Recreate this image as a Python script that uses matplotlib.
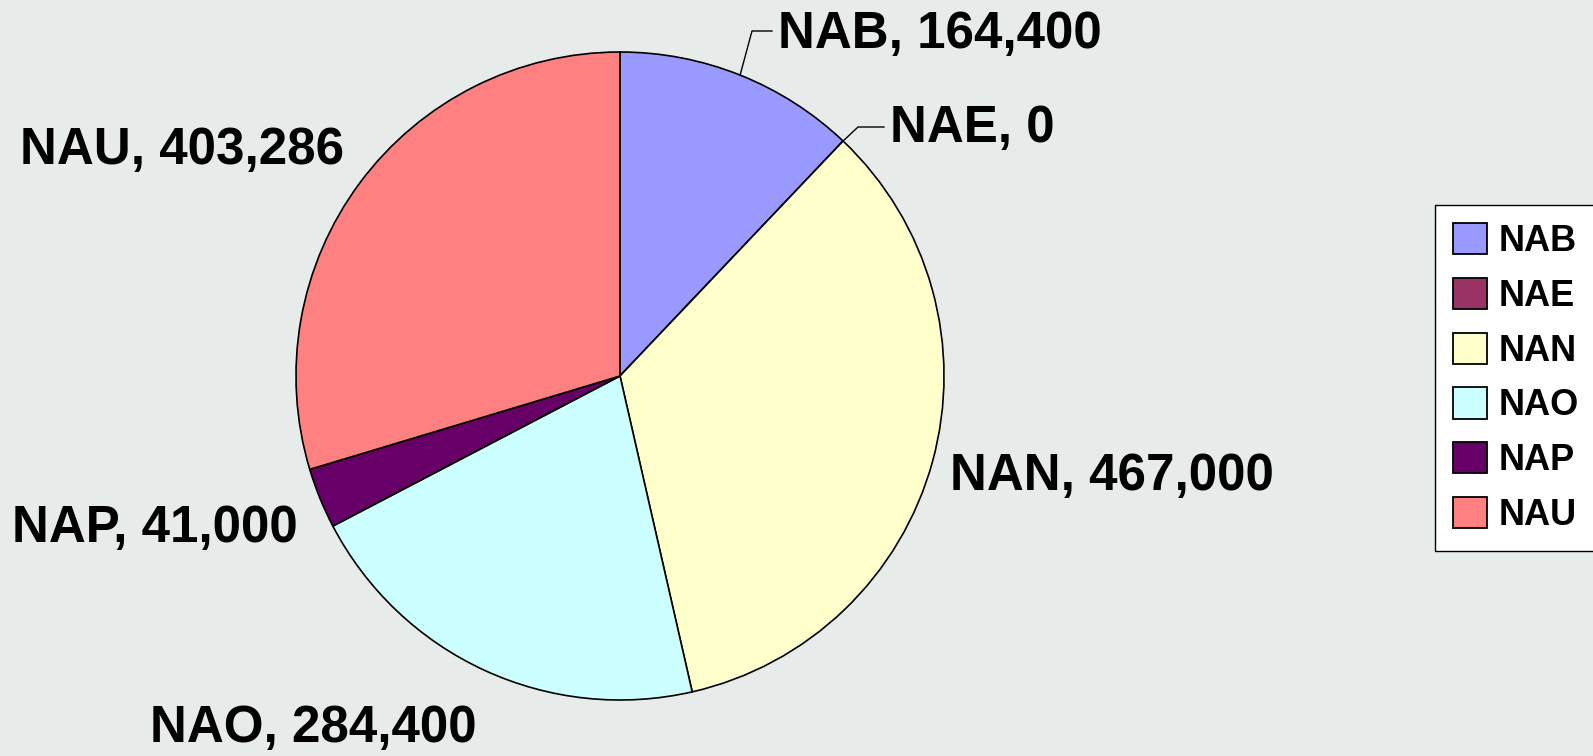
import numpy as np
import matplotlib.pyplot as plt

labels = ['NAB', 'NAE', 'NAN', 'NAO', 'NAP', 'NAU']
values = [164400, 0, 467000, 284400, 41000, 403286]
colors = ['#9999ff', '#993366', '#ffffcc', '#ccffff', '#660066', '#ff8080']

# label text anchor (left, vertical centre) in figure pixels, y from bottom
label_pos = {
    'NAB': (778, 722),
    'NAE': (890, 627),
    'NAN': (950, 279),
    'NAO': (150, 27),
    'NAP': (12, 228),
    'NAU': (20, 606),
}
# labels with a leader line: elbow point
leaders = {'NAB': (752, 725), 'NAE': (858, 629)}

W, H = 1593, 756
fig = plt.figure(figsize=(W / 100, H / 100), dpi=100)
fig.patch.set_facecolor('#e7ebe9')
ax = fig.add_axes([0, 0, 1, 1])

cx, cy, r = 620, 380, 324
wedges, _ = ax.pie(values, colors=colors, startangle=90, counterclock=False,
                   center=(cx, cy), radius=r, frame=True,
                   wedgeprops=dict(edgecolor='black', linewidth=1.2))
ax.set_xlim(0, W)
ax.set_ylim(0, H)
ax.set_aspect('equal')
ax.axis('off')

font = dict(family=['Liberation Sans', 'DejaVu Sans'], fontweight='bold', fontsize=36.8)
for w, lab, val in zip(wedges, labels, values):
    x, y = label_pos[lab]
    ax.text(x, y, f'{lab}, {val:,}', ha='left', va='center', color='black', **font)
    if lab in leaders:
        mid = np.radians((w.theta1 + w.theta2) / 2)
        sx, sy = cx + r * np.cos(mid), cy + r * np.sin(mid)
        ex, ey = leaders[lab]
        ax.plot([sx, ex, x - 6], [sy, ey, ey], color='black', lw=1)

leg = fig.legend(wedges, labels, loc='center left', bbox_to_anchor=(1435 / W, 378 / H),
                 frameon=True, fancybox=False, edgecolor='black', facecolor='white',
                 framealpha=1, prop=dict(family=['Liberation Sans', 'DejaVu Sans'],
                                         weight='bold', size=26),
                 handlelength=0.95, handleheight=0.95, handletextpad=0.3,
                 labelspacing=0.52, borderpad=0.5, borderaxespad=0)
leg.get_frame().set_linewidth(1.0)
for h in leg.legend_handles:
    h.set_edgecolor('black')
    h.set_linewidth(1.3)

fig.savefig('out.png', dpi=100, facecolor=fig.get_facecolor())
